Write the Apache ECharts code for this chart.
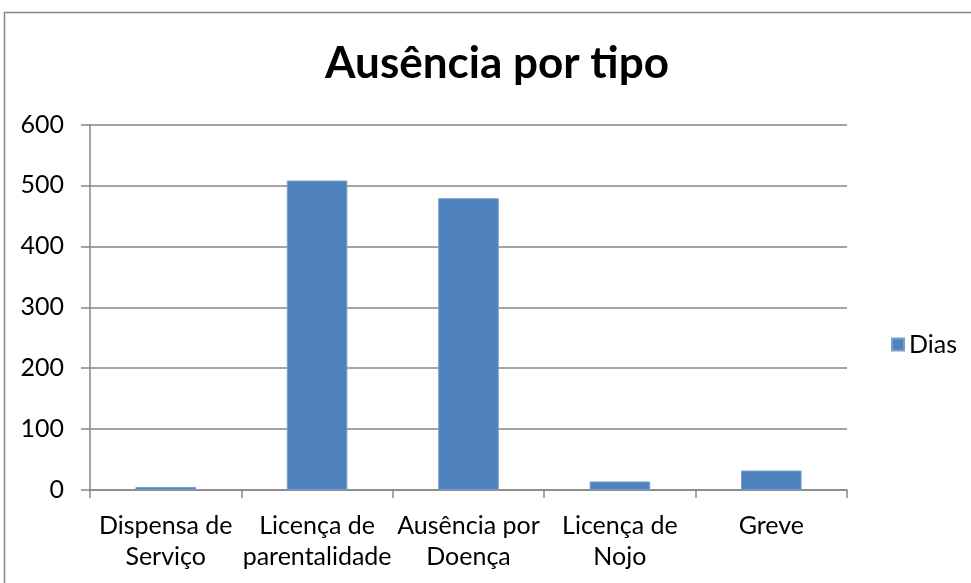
<!DOCTYPE html>
<html>
	<head>
		<meta charset="utf-8">
		<title>Ausência por tipo</title>
		<script src="https://cdn.jsdelivr.net/npm/echarts@6/dist/echarts.min.js"></script>
		<style>
			html, body { margin: 0; padding: 0; background: #fff; }
		</style>
	</head>
	<body>
		<div id="main" style="width: 971px;height:583px;"></div>
		<script type="text/javascript">
			// dados
			var categorias = ['Dispensa de\nServiço', 'Licença de\nparentalidade', 'Ausência por\nDoença', 'Licença de\nNojo', 'Greve'];
			var dias = [5, 508, 479, 14, 32];
			var nomeSerie = 'Dias';

			var fonte = 'Lato, "Open Sans", sans-serif';
			var cinza = '#868686';

			var myChart = echarts.init(document.getElementById('main'));
			var option = {
				animation: false,
				// moldura do gráfico (estilo Excel)
				graphic: [{
					type: 'rect',
					shape: { x: 4.5, y: 12.5, width: 1100, height: 1100 },
					style: { fill: 'none', stroke: cinza, lineWidth: 1.5 },
					silent: true
				}],
				title: {
					text: 'Ausência por tipo',
					left: 492,
					textAlign: 'center',
					top: 37,
					textStyle: { fontFamily: fonte, fontSize: 44, fontWeight: 'bold', color: '#000' }
				},
				legend: {
					data: [nomeSerie],
					orient: 'vertical',
					left: 886,
					top: 327,
					icon: 'rect',
					itemWidth: 12,
					itemHeight: 12,
					itemGap: 6,
					textStyle: { fontFamily: fonte, fontSize: 25, color: '#000', padding: [0, 0, 0, 0] }
				},
				grid: {
					left: 90,
					right: 124,
					top: 124.5,
					bottom: 93,
					containLabel: false
				},
				xAxis: {
					type: 'category',
					data: categorias,
					axisLine: { lineStyle: { color: cinza, width: 1.5 } },
					axisTick: { show: true, length: 8, lineStyle: { color: cinza, width: 1.5 } },
					axisLabel: {
						interval: 0,
						margin: 20,
						lineHeight: 31,
						fontFamily: fonte,
						fontSize: 25,
						color: '#000'
					}
				},
				yAxis: {
					type: 'value',
					min: 0,
					max: 600,
					interval: 100,
					axisLine: { show: true, lineStyle: { color: cinza, width: 1.5 } },
					axisTick: { show: true, length: 9, lineStyle: { color: cinza, width: 1.5 } },
					splitLine: { show: true, lineStyle: { color: cinza, width: 1.5 } },
					axisLabel: {
						margin: 26,
						fontFamily: fonte,
						fontSize: 25,
						color: '#000'
					}
				},
				series: [{
					name: nomeSerie,
					type: 'bar',
					data: dias,
					barWidth: '40%',
					itemStyle: { color: '#4F81BD', borderColor: '#7A9FCD', borderWidth: 1 }
				}]
			};
			myChart.setOption(option);
		</script>
	</body>
</html>
